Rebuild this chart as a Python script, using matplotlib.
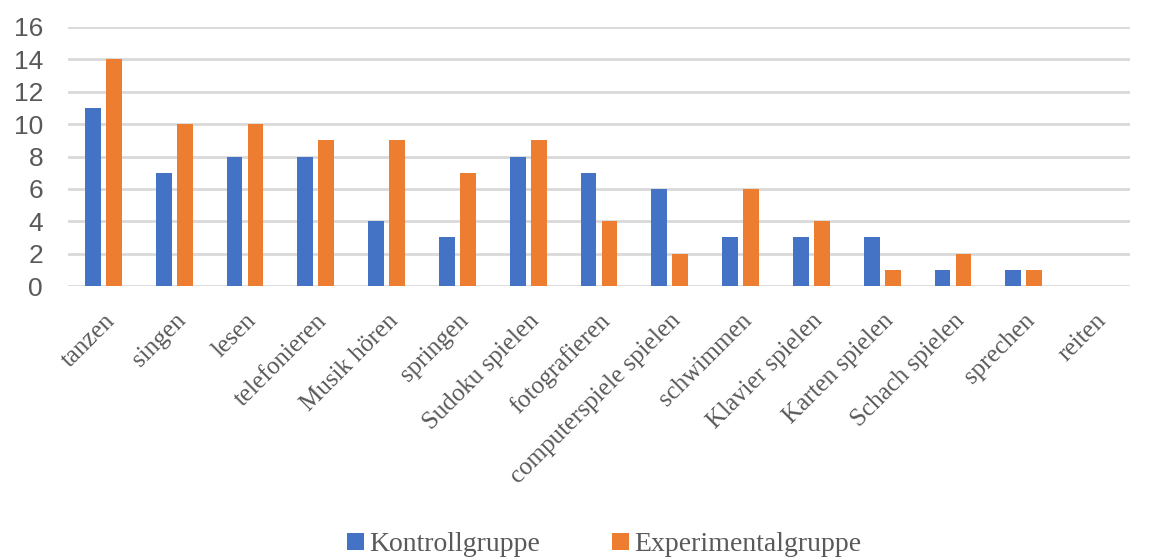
import numpy as np
import matplotlib.pyplot as plt

categories = ["tanzen", "singen", "lesen", "telefonieren", "Musik hören", "springen",
              "Sudoku spielen", "fotografieren", "computerspiele spielen", "schwimmen",
              "Klavier spielen", "Karten spielen", "Schach spielen", "sprechen", "reiten"]
kontroll = [11, 7, 8, 8, 4, 3, 8, 7, 6, 3, 3, 3, 1, 1, 0]
experimental = [14, 10, 10, 9, 9, 7, 9, 4, 2, 6, 4, 1, 2, 1, 0]

blue = "#4472C4"
orange = "#ED7D31"
grey = "#595959"

fig = plt.figure(figsize=(11.49, 5.6), dpi=100)
ax = fig.add_axes([68 / 1149, 1 - 286 / 560, (1130 - 68) / 1149, (286 - 27) / 560])

x = np.arange(len(categories))
w = 0.225
off = 0.148
ax.bar(x - off, kontroll, w, color=blue, label="Kontrollgruppe", zorder=3)
ax.bar(x + off, experimental, w, color=orange, label="Experimentalgruppe", zorder=3)

ax.set_xlim(-0.5, len(categories) - 0.5)
ax.set_ylim(0, 16)
ax.set_yticks(range(0, 17, 2))
ax.yaxis.grid(True, color="#D9D9D9", linewidth=2, zorder=0)
ax.set_axisbelow(True)
for s in ax.spines.values():
    s.set_visible(False)
ax.tick_params(axis="both", length=0)
ax.tick_params(axis="y", labelsize=19, labelcolor=grey, pad=18)
for lab in ax.get_yticklabels():
    lab.set_fontfamily("Liberation Sans")

ax.set_xticks(x)
ax.set_xticklabels(categories, rotation=45, ha="right", rotation_mode="anchor",
                   fontsize=18, color=grey, fontfamily="Liberation Serif")
ax.tick_params(axis="x", pad=17)

fig.legend(loc="center", bbox_to_anchor=(0.526, 0.027), ncol=2, frameon=False,
           prop={"family": "Liberation Serif", "size": 20}, labelcolor=grey,
           handlelength=0.6, handleheight=0.6, handletextpad=0.2, columnspacing=2.6)

fig.savefig("out.png", dpi=100)
